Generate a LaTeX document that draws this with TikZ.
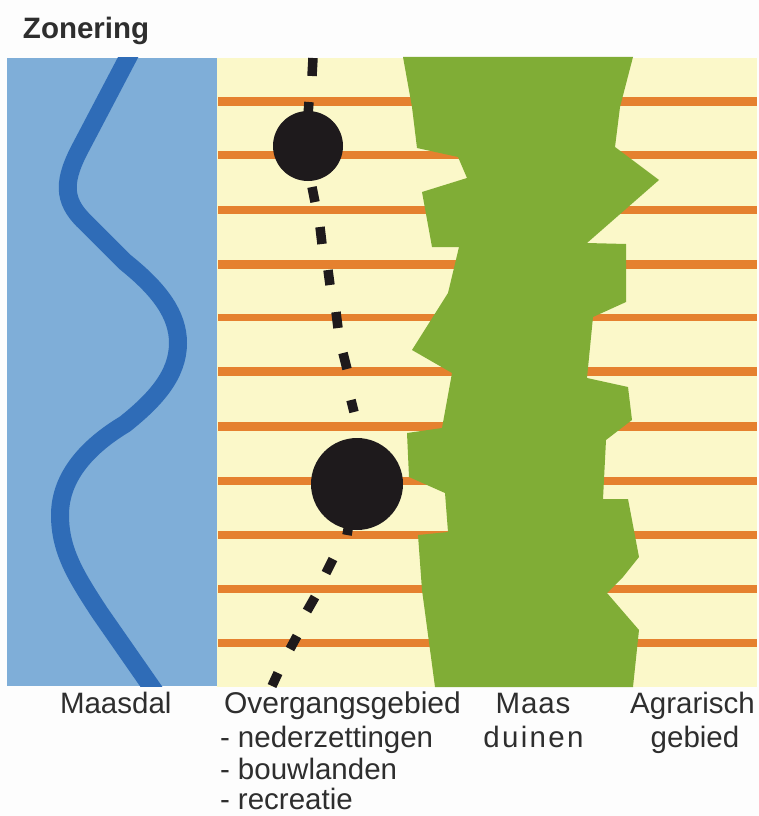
\documentclass[tikz,border=0pt]{standalone}
\usepackage{fontspec}
\setmainfont{Liberation Sans}
\definecolor{valley}{HTML}{7FAED8}
\definecolor{river}{HTML}{2F6CB7}
\definecolor{creamland}{HTML}{FBF8C9}
\definecolor{dune}{HTML}{80AD36}
\definecolor{fieldline}{HTML}{E5812F}
\definecolor{inkblack}{HTML}{1E1A1C}
\definecolor{paper}{HTML}{FDFDFD}
\tikzset{
  fieldrow/.style={fieldline,line width=#1},
  fieldrow/.default=8pt,
  roaddash/.style={inkblack,line width=9.5pt},
  town/.style={circle,fill=inkblack,draw=none,inner sep=0pt,minimum size=#1},
  lbl/.style={anchor=base west,inner sep=0pt,outer sep=0pt,text=black!82,font=\fontsize{29.5}{29.5}\selectfont},
  lblc/.style={lbl,anchor=base},
  ttl/.style={lbl,font=\fontsize{29.5}{29.5}\selectfont\bfseries}
}
\begin{document}
\begin{tikzpicture}[x=1pt,y=-1pt]
\useasboundingbox (0,0) rectangle (759,816);
\fill[paper] (0,0) rectangle (759,816);
% zones
\fill[creamland] (217,58) rectangle (757,687);
\fill[valley] (7,58) rectangle (217,686);
% river
\begin{scope}
\clip (7,58) rectangle (217,686);
\draw[river,line width=18pt,line join=round] (134,46) -- (82,145)
  .. controls (63,180) and (62,200) .. (85,222) -- (125,262)
  .. controls (160,290) and (178,315) .. (178,343)
  .. controls (178,375) and (155,400) .. (125,424)
  .. controls (90,445) and (60,475) .. (60,515)
  .. controls (60,550) and (75,575) .. (100,613) -- (155,692);
\end{scope}
% field rows
\foreach \yy/\ww in {101.5/9,155/7.5,210/8,264/9,317/7,371/9,426/9,481/7.5,535/7.5,589/8,643/8}
  \draw[fieldrow=\ww pt] (218,\yy) -- (757,\yy);
% dunes
\fill[dune] (403,57) -- (412,107) -- (417,148) -- (458,157) -- (467,178) -- (422,192) -- (432,247)
 -- (459,247) -- (448,293) -- (412,350) -- (452,373) -- (442,428) -- (407,433) -- (409,477)
 -- (445,493) -- (448,532) -- (418,535) -- (422,590) -- (435,687) -- (633,687)
 -- (639,630) -- (607,593) -- (623,577) -- (639,557) -- (628,499) -- (603,499) -- (606,440)
 -- (632,420) -- (628,387) -- (587,378) -- (593,317) -- (626,302) -- (626,244) -- (587,243)
 -- (659,180) -- (615,147) -- (620,107) -- (633,57) -- cycle;
% road
\foreach \xa/\ya/\xb/\yb in {
 313/58/312/76, 309/102/308/115, 312/187/315/202, 320/227/322/244, 328/270/330/285,
 336/312/338/328, 343/353/347/369, 351/400/354/412, 349/524/347/535, 333/559/326/573, 315/597/307/611,
 297/636/290/649, 278/673/272/686}
  \draw[roaddash] (\xa,\ya) -- (\xb,\yb);
\node[town=70pt] (townA) at (308,146) {};
\node[town=92pt] (townB) at (357,484) {};
% labels
\node[ttl] (title) at (23,38) {Zonering};
\node[lbl] (maasdal) at (60,713) {Maasdal};
\node[lbl,font=\fontsize{30}{30}\selectfont] (overgang) at (224,713) {Overgangsgebied};
\node[lbl] (neder) at (220,747) {- nederzettingen};
\node[lbl] (bouw) at (220,779) {- bouwlanden};
\node[lbl] (recr) at (220,809) {- recreatie};
\node[lblc] (maas) at (533,713) {\addfontfeature{LetterSpace=3}Maas};
\node[lblc] (duinen) at (533.5,747) {\addfontfeature{LetterSpace=8}duinen};
\node[lblc] (agrar) at (692.5,713) {Agrarisch};
\node[lblc] (gebied) at (695,747) {gebied};
\end{tikzpicture}
\end{document}
